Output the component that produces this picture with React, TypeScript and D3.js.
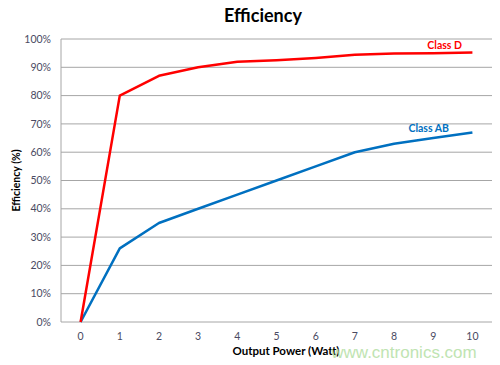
import React, { useEffect, useRef } from "react";
import * as d3 from "d3";

const powerLabels = ["0", "1", "2", "3", "4", "5", "6", "7", "8", "9", "10"];
const classD = [0, 80, 87, 90, 92, 92.5, 93.3, 94.4, 94.9, 95, 95.2];
const classAB = [0, 26, 35, 40, 45, 50, 55, 60, 63, 65, 67];
const yTicks = [0, 10, 20, 30, 40, 50, 60, 70, 80, 90, 100];

const App = () => {
  const ref = useRef<SVGSVGElement>(null);

  useEffect(() => {
    const width = 500;
    const height = 365;
    const margin = { top: 39, right: 8, bottom: 43, left: 61 };
    const font = "Lato, 'Open Sans', sans-serif";

    const svg = d3.select(ref.current).attr("width", width).attr("height", height);
    svg.selectAll("*").remove();

    svg.append("rect").attr("width", width).attr("height", height).attr("fill", "#fff");

    const x = d3
      .scaleBand()
      .domain(powerLabels)
      .range([margin.left, width - margin.right]);
    const y = d3
      .scaleLinear()
      .domain([0, 100])
      .range([height - margin.bottom, margin.top]);

    // grid lines
    svg
      .append("g")
      .selectAll("line")
      .data(yTicks)
      .enter()
      .append("line")
      .attr("x1", margin.left)
      .attr("x2", width - margin.right)
      .attr("y1", (d) => y(d))
      .attr("y2", (d) => y(d))
      .attr("stroke", "#a6a6a6")
      .attr("stroke-width", 1);

    // left axis line
    svg
      .append("line")
      .attr("x1", margin.left)
      .attr("x2", margin.left)
      .attr("y1", y(100))
      .attr("y2", y(0))
      .attr("stroke", "#a6a6a6");

    // y tick labels
    svg
      .append("g")
      .selectAll("text")
      .data(yTicks)
      .enter()
      .append("text")
      .attr("x", margin.left - 10)
      .attr("y", (d) => y(d))
      .attr("dy", "0.35em")
      .attr("text-anchor", "end")
      .style("font-family", font)
      .style("font-size", "10.5px")
      .style("fill", "#4a4a62")
      .text((d) => `${d}%`);

    // x tick labels
    svg
      .append("g")
      .selectAll("text")
      .data(powerLabels)
      .enter()
      .append("text")
      .attr("x", (d) => (x(d) as number) + x.bandwidth() / 2)
      .attr("y", y(0) + 18)
      .attr("text-anchor", "middle")
      .style("font-family", font)
      .style("font-size", "10.5px")
      .style("fill", "#4a4a62")
      .text((d) => d);

    const line = d3
      .line<number>()
      .x((_, i) => (x(powerLabels[i]) as number) + x.bandwidth() / 2)
      .y((d) => y(d));

    svg
      .append("path")
      .datum(classAB)
      .attr("d", line)
      .attr("fill", "none")
      .attr("stroke", "#0070c0")
      .attr("stroke-width", 2.5)
      .attr("stroke-linejoin", "round");

    svg
      .append("path")
      .datum(classD)
      .attr("d", line)
      .attr("fill", "none")
      .attr("stroke", "#ff0000")
      .attr("stroke-width", 2.5)
      .attr("stroke-linejoin", "round");

    // series labels
    svg
      .append("text")
      .attr("x", 462)
      .attr("y", 49)
      .attr("text-anchor", "end")
      .style("font-family", font)
      .style("font-size", "10.5px")
      .style("font-weight", "bold")
      .style("fill", "#ff0000")
      .text("Class D");

    svg
      .append("text")
      .attr("x", 449)
      .attr("y", 132)
      .attr("text-anchor", "end")
      .style("font-family", font)
      .style("font-size", "10.5px")
      .style("font-weight", "bold")
      .style("fill", "#0070c0")
      .text("Class AB");

    // title
    svg
      .append("text")
      .attr("x", 263)
      .attr("y", 22)
      .attr("text-anchor", "middle")
      .style("font-family", font)
      .style("font-size", "18px")
      .style("font-weight", "bold")
      .style("fill", "#000")
      .text("Efficiency");

    // axis titles
    svg
      .append("text")
      .attr("transform", `translate(20, ${(y(0) + y(100)) / 2}) rotate(-90)`)
      .attr("text-anchor", "middle")
      .style("font-family", font)
      .style("font-size", "10.5px")
      .style("font-weight", "bold")
      .style("fill", "#000")
      .text("Efficiency (%)");

    svg
      .append("text")
      .attr("x", 286)
      .attr("y", 355)
      .attr("text-anchor", "middle")
      .style("font-family", font)
      .style("font-size", "11.5px")
      .style("font-weight", "bold")
      .style("fill", "#000")
      .text("Output Power (Watt)");

    // watermark
    svg
      .append("text")
      .attr("x", 404)
      .attr("y", 358)
      .attr("text-anchor", "middle")
      .style("font-family", "'Liberation Sans', Arial, sans-serif")
      .style("font-size", "17px")
      .style("fill", "#b5e0a5")
      .style("opacity", 0.85)
      .text("www.cntronics.com");
  }, []);

  return (
    <div style={{ position: "absolute", left: 0, top: 0 }}>
      <svg ref={ref}></svg>
    </div>
  );
};

export default App;
